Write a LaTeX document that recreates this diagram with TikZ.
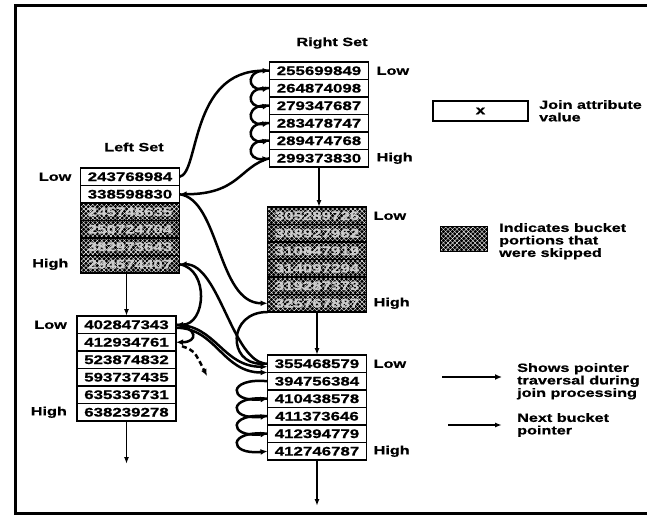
\documentclass[tikz,border=0pt]{standalone}
\usepackage{fontspec}
\setmainfont{Liberation Sans}[FakeStretch=1.35, BoldFeatures={FakeStretch=1.35, FakeBold=0.8}]
\usetikzlibrary{arrows.meta,patterns.meta,positioning}

\begin{document}
\begin{tikzpicture}[x=1pt,y=-1pt,
    cell/.style={draw, line width=1.6pt, minimum width=99pt, minimum height=17.5pt,
      inner sep=0pt, outer sep=0pt, font=\bfseries\fontsize{12.5}{14}\selectfont},
    skipped/.style={cell, text=white!80!black,
      preaction={fill=black},
      preaction={pattern={Lines[angle=45,distance=3.2pt,line width=0.4pt]}, pattern color=white},
      pattern={Lines[angle=-45,distance=3.2pt,line width=0.4pt]}, pattern color=white},
    lbl/.style={font=\bfseries\fontsize{12}{12.5}\selectfont, inner sep=0pt},
    trav/.style={line width=2.5pt, -{Latex[length=7pt,width=6pt]}},
    nxt/.style={line width=1.4pt, -{Latex[length=7pt,width=5pt]}}]
  \useasboundingbox (0,0) rectangle (647,519);

  % Frame
  \draw[line width=3pt] (647,5.5) -- (15,5.5) -- (15,513) -- (647,513);

  % Right set, first bucket
  \node[lbl] (rightset) at (332,43) {Right Set};
  \foreach \v [count=\i] in {255699849,264874098,279347687,283478747,289474768,299373830}
    \node[cell] (rt\i) at (319,62+17.5*\i-8.75) {\v};
  \node[lbl, right=8pt of rt1] (rtlow) {Low};
  \node[lbl, right=8pt of rt6] (rthigh) {High};

  % Right set, skipped bucket
  \foreach \v [count=\i] in {305289726,308927962,310847919,314097294,319287373,325767887}
    \node[skipped] (m\i) at (317,207+17.5*\i-8.75) {\v};
  \node[lbl, right=7pt of m1] (mlow) {Low};
  \node[lbl, right=7pt of m6] (mhigh) {High};

  % Right set, third bucket
  \foreach \v [count=\i] in {355468579,394756384,410438578,411373646,412394779,412746787}
    \node[cell] (br\i) at (317,355+17.5*\i-8.75) {\v};
  \node[lbl, right=7pt of br1] (brlow) {Low};
  \node[lbl, right=7pt of br6] (brhigh) {High};

  % Left set, first bucket
  \node[lbl] (leftset) at (134,147) {Left Set};
  \foreach \v/\s [count=\i] in {243768984/cell,338598830/cell,245748635/skipped,
      250724704/skipped,382973643/skipped,294574407/skipped}
    \node[\s] (l\i) at (130,168+17.5*\i-8.75) {\v};
  \node[lbl, left=9pt of l1] (llow) {Low};
  \node[lbl, left=12pt of l6] (lhigh) {High};

  % Left set, second bucket
  \foreach \v [count=\i] in {402847343,412934761,523874832,593737435,635336731,638239278}
    \node[cell] (bl\i) at (126.5,316+17.5*\i-8.75) {\v};
  \node[lbl, left=10pt of bl1] (bllow) {Low};
  \node[lbl, left=10pt of bl6] (blhigh) {High};

  % Next bucket pointers
  \coordinate (blout) at (126.5,464);
  \coordinate (brout) at (317,506);
  \draw[nxt] (rt6.south) -- (rt6.south |- m1.north);
  \draw[nxt] (m6.south) -- (br1.north);
  \draw[nxt] (bl1.north |- l6.south) -- (bl1.north);
  \draw[nxt] (bl6.south) -- (blout);
  \draw[nxt] (br6.south) -- (brout);

  % Traversal
  \draw[trav] (l1.east) .. controls +(20,-3) and +(-80,0) .. (rt1.west);
  \foreach \i [count=\j from 2] in {1,...,5}
    \draw[trav] (rt\i.west) .. controls +(-24,-3) and +(-24,3) .. (rt\j.west);
  \draw[trav] (rt6.west) .. controls +(-30,8) and +(60,0) .. (l2.east);
  \draw[trav] (l2.east) .. controls +(40,5) and +(-50,0) .. (m6.west);
  \draw[trav] (m6.south west) .. controls +(-40,0) and +(-40,0) .. (br1.west);
  \draw[trav] (br1.west) .. controls +(-35,0) and +(40,0) .. (l6.east);
  \draw[trav] (l6.east) .. controls +(30,5) and +(30,0) .. (bl1.east);
  \draw[trav] (bl1.east) .. controls +(40,0) and +(-45,0) .. ([yshift=-3pt]br1.west);
  \draw[trav] ([yshift=-3pt]bl1.east) .. controls +(40,0) and +(-45,0) .. (br1.south west);
  \draw[trav] (bl1.east) .. controls +(22,3) and +(22,0) .. (bl2.east);
  \coordinate (dashend) at (207,376);
  \draw[trav, dash pattern=on 5pt off 3pt] ([xshift=6pt,yshift=-4pt]bl2.east)
    .. controls +(12,4) .. (dashend);
  \foreach \i [count=\j from 3] in {2,...,5}
    \draw[trav] (br\i.west) .. controls +(-40,-4) and +(-40,4) .. (br\j.west);

  % Key
  \node[cell, minimum width=95pt, minimum height=20pt] (keycell) at (480.5,111) {x};
  \node[lbl, anchor=north west, align=left] (keytext) at (539,100) {Join attribute\\value};
  \node[skipped, minimum width=47pt, minimum height=25pt] (keyskip) at (464,239) {};
  \node[lbl, anchor=north west, align=left] (skiptext) at (499,223)
    {Indicates bucket\\portions that\\were skipped};
  \coordinate (trava) at (442,377);
  \coordinate (travb) at (502,377);
  \draw[trav] (trava) -- (travb);
  \node[lbl, anchor=north west, align=left] (travtext) at (517,363)
    {Shows pointer\\traversal during\\join processing};
  \coordinate (nxta) at (448,425);
  \coordinate (nxtb) at (502,425);
  \draw[nxt] (nxta) -- (nxtb);
  \node[lbl, anchor=north west, align=left] (nxttext) at (517,413) {Next bucket\\pointer};
\end{tikzpicture}
\end{document}
